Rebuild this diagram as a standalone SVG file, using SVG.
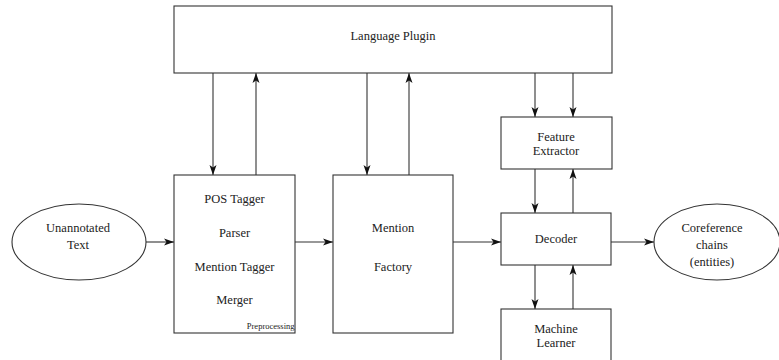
<svg xmlns="http://www.w3.org/2000/svg" width="779" height="360" viewBox="0 0 779 360">
<style>
.box{fill:#fff;stroke:#333;stroke-width:1.1}
.c{fill:none;stroke:#333;stroke-width:1.1;marker-end:url(#ah)}
</style>
<defs>
<marker id="ah" viewBox="0 0 10 8" refX="10" refY="4" markerWidth="10" markerHeight="8" markerUnits="userSpaceOnUse" orient="auto">
<path d="M0,0.5 L10,4 L0,7.5 L2.5,4 Z" fill="#111"/>
</marker>
</defs>
<rect width="779" height="360" fill="#fff"/>
<g id="connectors">
<line class="c" x1="213" y1="73" x2="213" y2="175"/>
<line class="c" x1="256" y1="175" x2="256" y2="73"/>
<line class="c" x1="367" y1="73" x2="367" y2="175"/>
<line class="c" x1="409" y1="175" x2="409" y2="73"/>
<line class="c" x1="535" y1="73" x2="535" y2="117"/>
<line class="c" x1="573" y1="73" x2="573" y2="117"/>
<line class="c" x1="535" y1="169" x2="535" y2="213"/>
<line class="c" x1="573" y1="213" x2="573" y2="169"/>
<line class="c" x1="535" y1="265" x2="535" y2="309"/>
<line class="c" x1="573" y1="309" x2="573" y2="265"/>
<line class="c" x1="146" y1="242" x2="174" y2="242"/>
<line class="c" x1="295" y1="242" x2="333" y2="242"/>
<line class="c" x1="453" y1="242" x2="501" y2="242"/>
<line class="c" x1="611" y1="242" x2="654" y2="242"/>
</g>
<g font-family="Liberation Serif, serif" font-size="12.5" fill="#222" text-anchor="middle">
<g id="language-plugin">
<rect class="box" x="174" y="6" width="438" height="67"/>
<text x="393" y="40">Language Plugin</text>
</g>
<g id="unannotated-text">
<ellipse class="box" cx="79" cy="242" rx="67" ry="38"/>
<text x="78" y="232">Unannotated</text>
<text x="78" y="249">Text</text>
</g>
<g id="preprocessing">
<rect class="box" x="174" y="175" width="121" height="158"/>
<text x="234.5" y="203">POS Tagger</text>
<text x="234.5" y="237">Parser</text>
<text x="234.5" y="271">Mention Tagger</text>
<text x="234.5" y="304">Merger</text>
<text x="294.5" y="329" font-size="8.5" text-anchor="end">Preprocessing</text>
</g>
<g id="mention-factory">
<rect class="box" x="333" y="175" width="120" height="158"/>
<text x="393" y="232">Mention</text>
<text x="393" y="271">Factory</text>
</g>
<g id="feature-extractor">
<rect class="box" x="501" y="117" width="111" height="52"/>
<text x="556" y="141">Feature</text>
<text x="556" y="155">Extractor</text>
</g>
<g id="decoder">
<rect class="box" x="501" y="213" width="110" height="52"/>
<text x="556" y="243">Decoder</text>
</g>
<g id="machine-learner">
<rect class="box" x="501" y="309" width="110" height="60"/>
<text x="556" y="333">Machine</text>
<text x="556" y="347">Learner</text>
</g>
<g id="coreference-chains">
<ellipse class="box" cx="717" cy="242" rx="63" ry="38"/>
<text x="712" y="232">Coreference</text>
<text x="712" y="249">chains</text>
<text x="712" y="266">(entities)</text>
</g>
</g>
</svg>
